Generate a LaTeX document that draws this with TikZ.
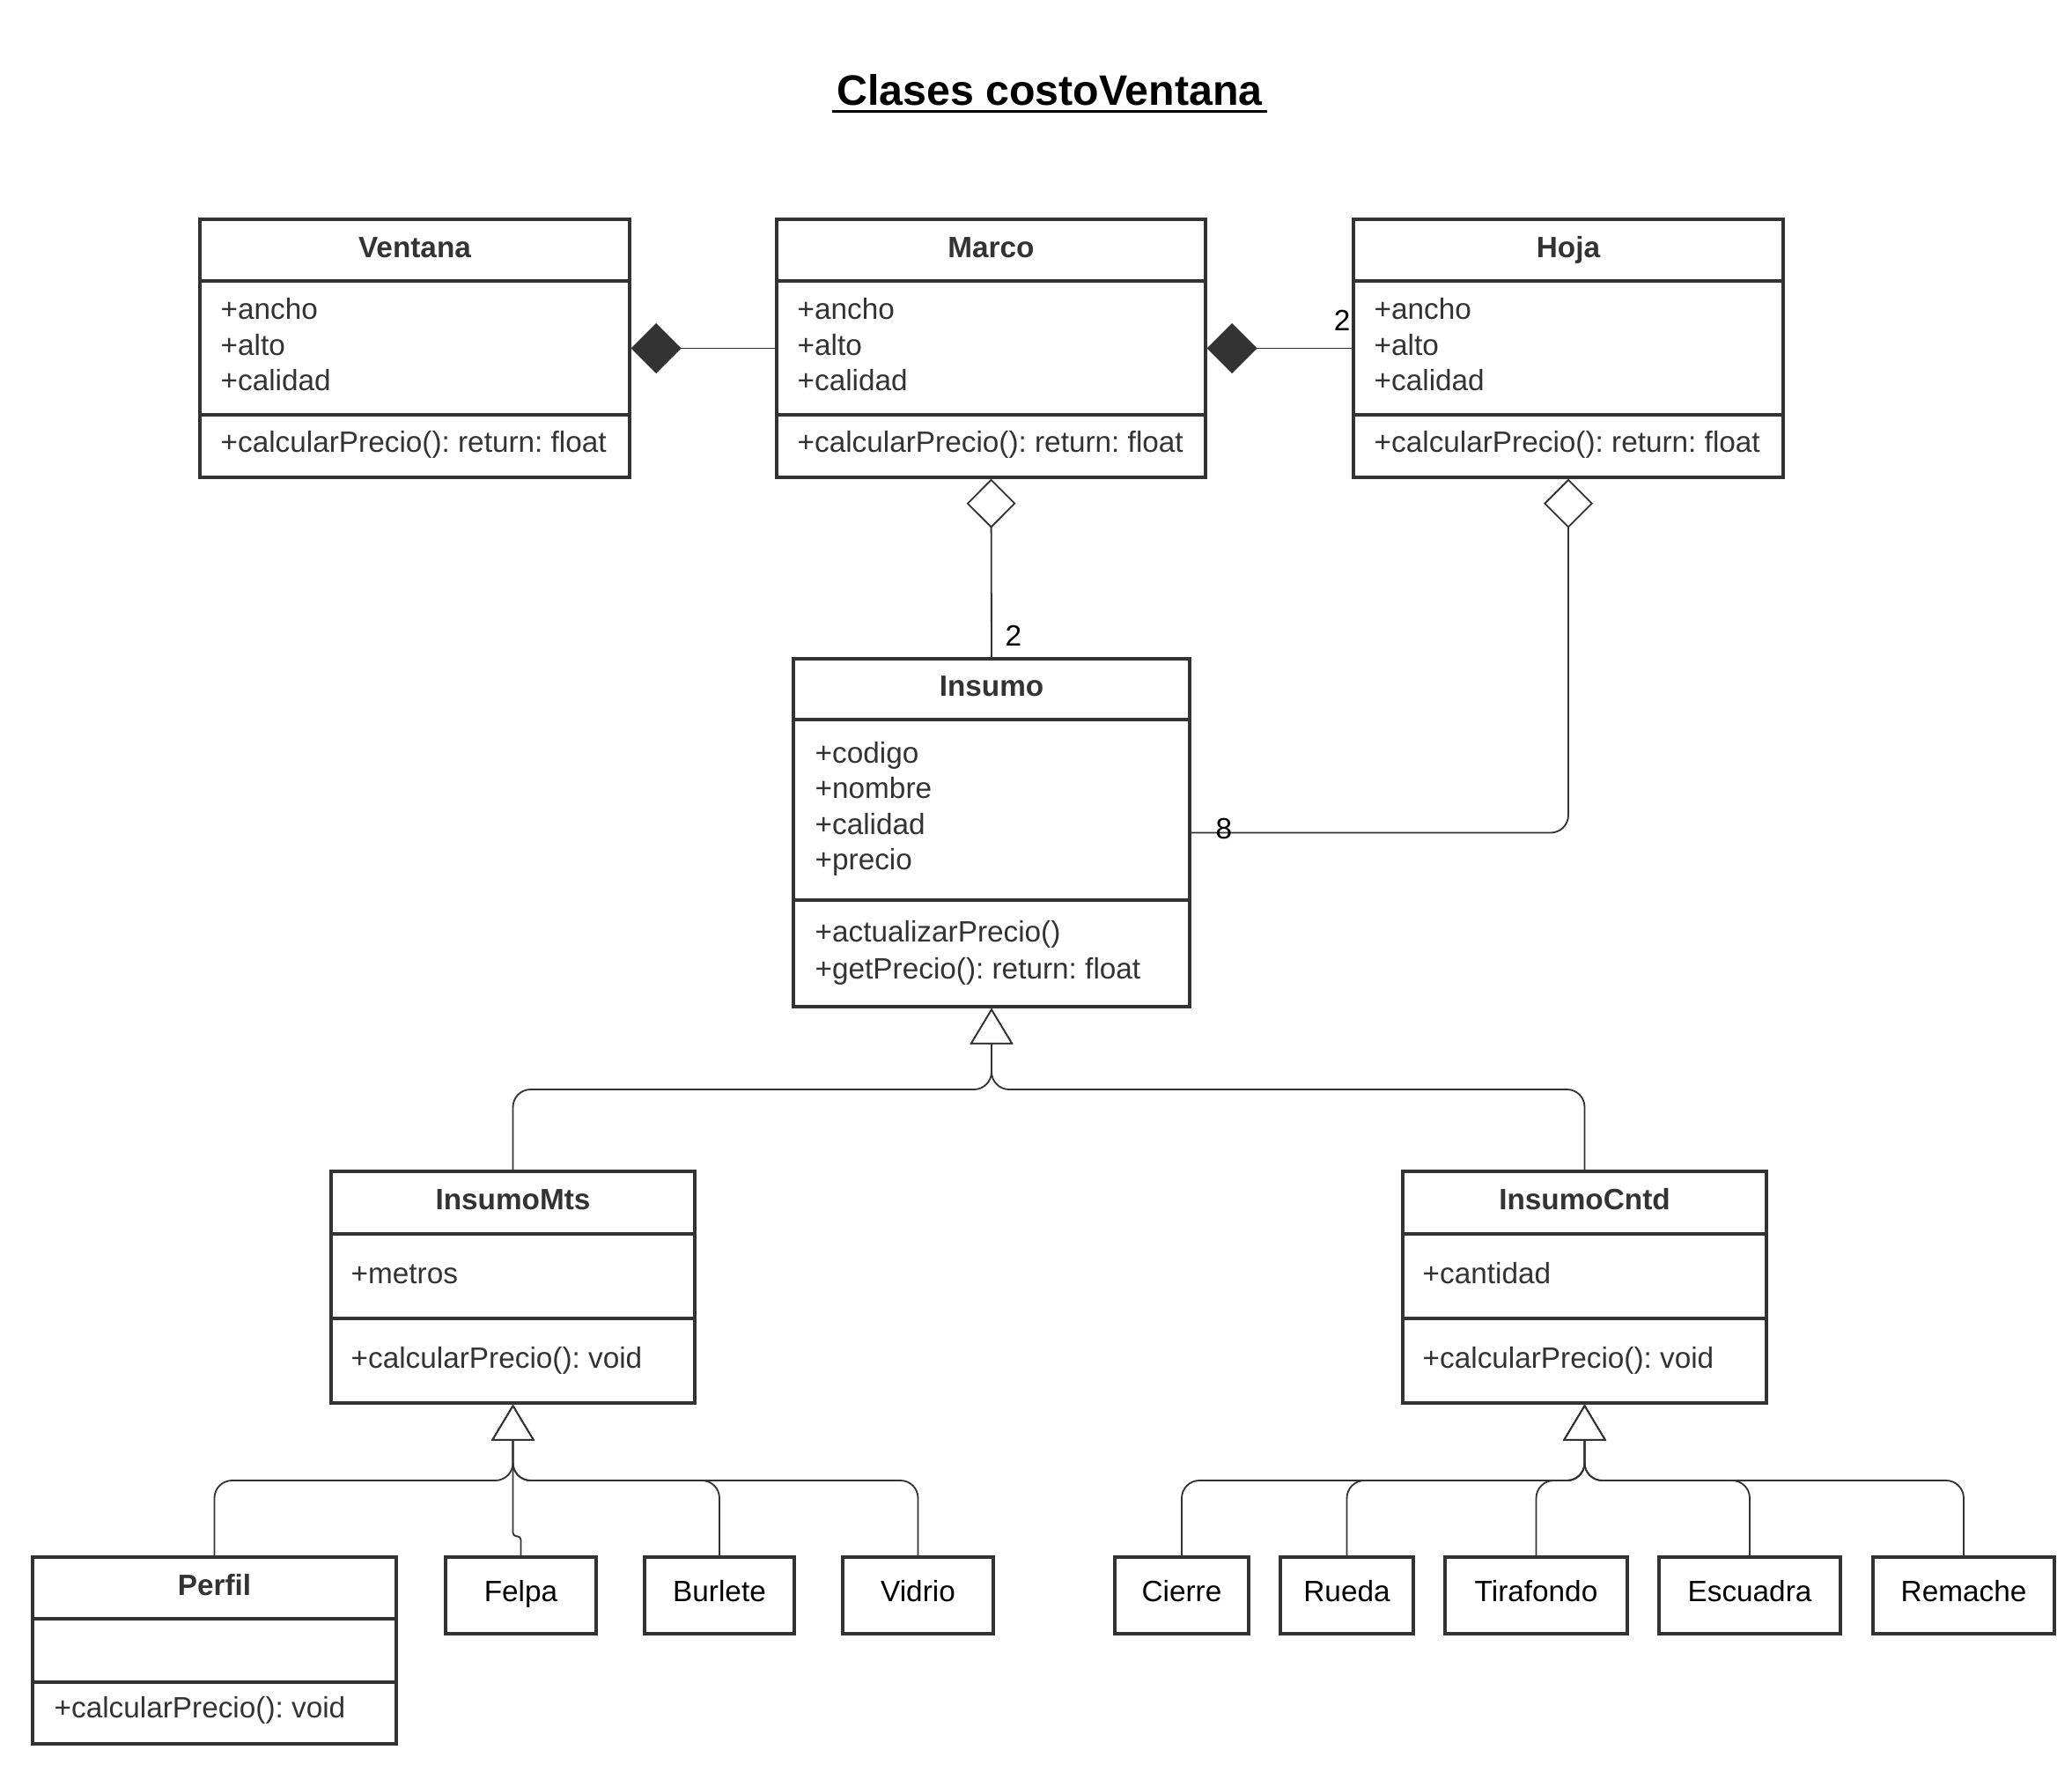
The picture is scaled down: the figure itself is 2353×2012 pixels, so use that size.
\documentclass[tikz,border=0pt]{standalone}
\usepackage{fontspec}
\setmainfont{Liberation Sans}
\usetikzlibrary{arrows.meta,fit}
\definecolor{ink}{HTML}{333333}
\frenchspacing

\begin{document}
\begin{tikzpicture}[x=0.3pt,y=-0.3pt,
  cls/.style={draw=ink, line width=1pt, inner sep=0pt, fill=white},
  sep/.style={draw=ink, line width=1pt},
  ttl/.style={font=\bfseries\fontsize{10}{12}\selectfont, text=ink, anchor=base, inner sep=0pt},
  mem/.style={font=\fontsize{10}{12}\selectfont, text=ink, anchor=base west, inner sep=0pt},
  leaf/.style={font=\fontsize{10}{12}\selectfont, text=black, anchor=base, inner sep=0pt},
  mult/.style={font=\fontsize{10}{12}\selectfont, text=black, anchor=base, inner sep=0pt},
  link/.style={draw=ink, line width=0.55pt},
  comp/.style={link, -{Diamond[length=17.1pt,width=17.1pt,fill=ink]}},
  aggr/.style={link, -{Diamond[length=16.8pt,width=16.8pt,fill=white]}},
  gen/.style={link, rounded corners=6pt, -{Triangle[length=12.3pt,width=14.7pt,fill=white]}},
]
% canvas
\fill[white] (0,0) rectangle (2353,2012);
\useasboundingbox (0,0) rectangle (2353,2012);

% heading
\node[font=\bfseries\fontsize{14.5}{17}\selectfont, anchor=base, inner sep=0pt, inner xsep=1.5pt] (title) at (1192,120) {Clases costoVentana};
\draw[line width=0.9pt] ([yshift=-2.1pt]title.base west) -- ([yshift=-2.1pt]title.base east);

% ---- top row classes ----
\node[cls, fit={(227,249) (715,542)}] (ventana) {};
\draw[sep] (227,319) -- (715,319) (227,471) -- (715,471);
\node[ttl] at (471,292) {Ventana};
\node[mem] at (250,362) {+ancho};
\node[mem] at (250,403) {+alto};
\node[mem] at (250,443) {+calidad};
\node[mem] at (250,513) {+calcularPrecio(): return: float};

\node[cls, fit={(882,249) (1369,542)}] (marco) {};
\draw[sep] (882,319) -- (1369,319) (882,471) -- (1369,471);
\node[ttl] at (1125.5,292) {Marco};
\node[mem] at (905,362) {+ancho};
\node[mem] at (905,403) {+alto};
\node[mem] at (905,443) {+calidad};
\node[mem] at (905,513) {+calcularPrecio(): return: float};

\node[cls, fit={(1537,249) (2025,542)}] (hoja) {};
\draw[sep] (1537,319) -- (2025,319) (1537,471) -- (2025,471);
\node[ttl] at (1781,292) {Hoja};
\node[mem] at (1560,362) {+ancho};
\node[mem] at (1560,403) {+alto};
\node[mem] at (1560,443) {+calidad};
\node[mem] at (1560,513) {+calcularPrecio(): return: float};

% ---- Insumo ----
\node[cls, fit={(901,748) (1351,1143)}] (insumo) {};
\draw[sep] (901,817) -- (1351,817) (901,1022) -- (1351,1022);
\node[ttl] at (1126,790) {Insumo};
\node[mem] at (925,866) {+codigo};
\node[mem] at (925,906.5) {+nombre};
\node[mem] at (925,947) {+calidad};
\node[mem] at (925,987.5) {+precio};
\node[mem] at (925,1069) {+actualizarPrecio()};
\node[mem] at (925,1111) {+getPrecio(): return: float};

% ---- second level ----
\node[cls, fit={(376,1330) (789,1593)}] (insumomts) {};
\draw[sep] (376,1401) -- (789,1401) (376,1497) -- (789,1497);
\node[ttl] at (582.5,1373) {InsumoMts};
\node[mem] at (398,1457) {+metros};
\node[mem] at (398,1553) {+calcularPrecio(): void};

\node[cls, fit={(1593,1330) (2006,1593)}] (insumocntd) {};
\draw[sep] (1593,1401) -- (2006,1401) (1593,1497) -- (2006,1497);
\node[ttl] at (1799.5,1373) {InsumoCntd};
\node[mem] at (1615,1457) {+cantidad};
\node[mem] at (1615,1553) {+calcularPrecio(): void};

% ---- leaves ----
\node[cls, fit={(37,1768) (450,1980)}] (perfil) {};
\draw[sep] (37,1838) -- (450,1838) (37,1910) -- (450,1910);
\node[ttl] at (243.5,1811) {Perfil};
\node[mem] at (61,1950) {+calcularPrecio(): void};

\node[cls, fit={(506,1768) (677,1855)}] (felpa) {};
\node[leaf] at (591.5,1818) {Felpa};
\node[cls, fit={(732,1768) (902,1855)}] (burlete) {};
\node[leaf] at (817,1818) {Burlete};
\node[cls, fit={(957,1768) (1128,1855)}] (vidrio) {};
\node[leaf] at (1042.5,1818) {Vidrio};

\node[cls, fit={(1266,1768) (1418,1855)}] (cierre) {};
\node[leaf] at (1342,1818) {Cierre};
\node[cls, fit={(1454,1768) (1605,1855)}] (rueda) {};
\node[leaf] at (1529.5,1818) {Rueda};
\node[cls, fit={(1641,1768) (1848,1855)}] (tirafondo) {};
\node[leaf] at (1744.5,1818) {Tirafondo};
\node[cls, fit={(1884,1768) (2090,1855)}] (escuadra) {};
\node[leaf] at (1987,1818) {Escuadra};
\node[cls, fit={(2127,1768) (2333,1855)}] (remache) {};
\node[leaf] at (2230,1818) {Remache};

% ---- compositions ----
\draw[comp] (marco.west) -- (ventana.east);
\draw[comp] (hoja.west) -- (marco.east);
\node[mult] at (1524,375) {2};

% ---- aggregations ----
\draw[aggr] (insumo.north) -- (marco.south);
\node[mult] at (1151,733) {2};
\draw[aggr, rounded corners=6pt] (insumo.east) -| (hoja.south);
\node[mult] at (1390,952) {8};

% ---- generalisations ----
\coordinate (busA) at (1126,1237);
\draw[gen] (insumomts.north) |- (busA) -- (insumo.south);
\draw[gen] (insumocntd.north) |- (busA) -- (insumo.south);

\coordinate (busB) at (582.5,1681);
\draw[gen] (perfil.north) |- (busB) -- (insumomts.south);
\draw[gen, rounded corners=1.2pt] (felpa.north) -- ++(0,-22) -| (insumomts.south);
\draw[gen] (burlete.north) |- (busB) -- (insumomts.south);
\draw[gen] (vidrio.north) |- (busB) -- (insumomts.south);

\coordinate (busC) at (1799.5,1681);
\draw[gen] (cierre.north) |- (busC) -- (insumocntd.south);
\draw[gen] (rueda.north) |- (busC) -- (insumocntd.south);
\draw[gen] (tirafondo.north) |- (busC) -- (insumocntd.south);
\draw[gen] (escuadra.north) |- (busC) -- (insumocntd.south);
\draw[gen] (remache.north) |- (busC) -- (insumocntd.south);
\end{tikzpicture}
\end{document}
